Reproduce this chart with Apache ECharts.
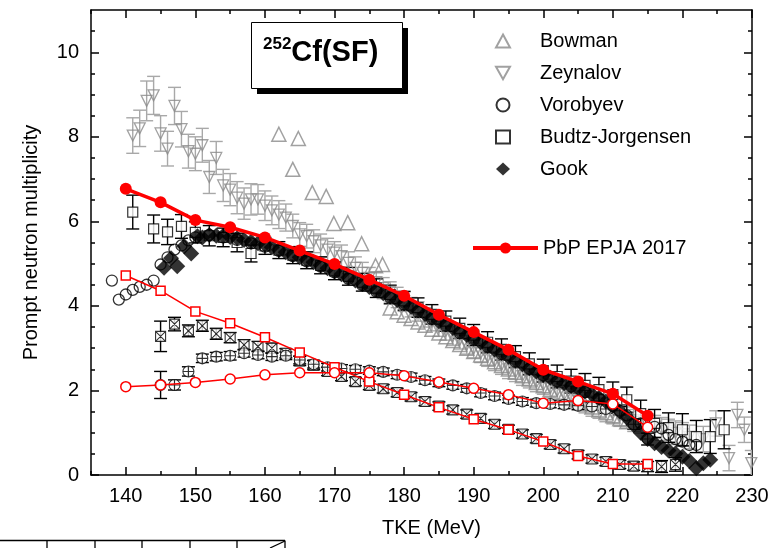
<!DOCTYPE html>
<html>
<head>
<meta charset="utf-8">
<script src="https://cdn.jsdelivr.net/npm/echarts@6/dist/echarts.min.js"></script>
<style>
  html, body { margin: 0; padding: 0; background: #fff; }
  #chart { width: 776px; height: 548px; }
</style>
</head>
<body>
<div id="chart"></div>
<script>
// tick positions
const xMajor = [140, 150, 160, 170, 180, 190, 200, 210, 220, 230]
const xMinor = [135, 145, 155, 165, 175, 185, 195, 205, 215, 225]
const yMajor = [0, 2, 4, 6, 8, 10]
const yMinor = [0.5, 1, 1.5, 2.5, 3, 3.5, 4.5, 5, 5.5, 6.5, 7, 7.5, 8.5, 9, 9.5, 10.5]

// Zeynalov (gray down triangles, with errors)
const zeyTke = [141, 142, 143, 144, 145, 146, 147, 148, 149, 150,
  151, 152, 153, 154, 155, 156, 157, 158, 159, 160,
  161, 162, 163, 164, 165, 166, 167, 168, 169, 170,
  171, 172, 173, 174, 175, 176, 177, 178, 179, 180,
  181, 182, 183, 184, 185, 186, 187, 188, 189, 190,
  191, 192, 193, 194, 195, 196, 197, 198, 199, 200,
  201, 202, 203, 204, 205, 206, 207, 208, 209, 210,
  211, 212, 213, 214, 215, 216, 217, 218, 219, 220,
  221, 223, 224.8, 226.7, 227.9, 228.9, 229.9]
const zeyNu = [8.03, 8.20, 8.85, 8.98, 8.08, 7.72, 8.73, 8.18, 7.66, 7.60,
  7.80, 7.05, 7.50, 6.85, 6.75, 6.56, 6.42, 6.52, 6.52, 6.37,
  6.26, 6.16, 6.09, 5.89, 5.69, 5.65, 5.53, 5.43, 5.33, 5.26,
  5.18, 5.02, 4.90, 4.78, 4.66, 4.56, 4.42, 4.33, 4.20, 4.11,
  3.97, 3.87, 3.73, 3.63, 3.50, 3.41, 3.29, 3.20, 3.08, 2.99,
  2.88, 2.79, 2.69, 2.60, 2.50, 2.43, 2.34, 2.28, 2.19, 2.13,
  2.05, 1.99, 1.90, 1.84, 1.76, 1.71, 1.63, 1.58, 1.51, 1.46,
  1.40, 1.36, 1.29, 1.25, 1.18, 1.14, 1.09, 1.05, 1.00, 0.96,
  0.90, 0.85, 1.22, 0.40, 1.42, 1.07, 0.28]
const zeyErr = [0.42, 0.43, 0.47, 0.45, 0.42, 0.41, 0.44, 0.42, 0.40, 0.40,
  0.40, 0.39, 0.39, 0.38, 0.38, 0.38, 0.37, 0.37, 0.35, 0.35,
  0.34, 0.33, 0.32, 0.28, 0.28, 0.28, 0.27, 0.27, 0.27, 0.26,
  0.26, 0.26, 0.26, 0.25, 0.25, 0.25, 0.25, 0.24, 0.24, 0.24,
  0.23, 0.23, 0.23, 0.22, 0.22, 0.22, 0.22, 0.22, 0.22, 0.22,
  0.22, 0.22, 0.22, 0.22, 0.22, 0.22, 0.22, 0.22, 0.22, 0.22,
  0.22, 0.22, 0.22, 0.22, 0.23, 0.24, 0.24, 0.24, 0.25, 0.25,
  0.25, 0.25, 0.26, 0.26, 0.26, 0.27, 0.27, 0.27, 0.28, 0.28,
  0.28, 0.30, 0.30, 0.30, 0.30, 0.30, 0.30]

// Bowman (gray up triangles)
const bowTke = [162.0, 164.0, 164.8, 166.8, 168.8, 169.9, 171.9, 173.9, 175.9, 176.9,
  178, 179, 180, 181, 182, 183, 184, 185, 186, 187,
  188, 189, 190, 191, 192, 193, 194, 195, 196, 197,
  198, 199, 200, 201, 202, 203, 204, 205, 206, 207,
  208, 209, 210, 211, 212]
const bowNu = [8.06, 7.23, 7.96, 6.68, 6.59, 5.95, 5.97, 5.47, 4.95, 4.98,
  3.95, 3.86, 3.78, 3.70, 3.62, 3.54, 3.45, 3.36, 3.27, 3.18,
  3.09, 3.00, 2.92, 2.84, 2.76, 2.68, 2.59, 2.51, 2.43, 2.35,
  2.27, 2.19, 2.11, 2.03, 1.96, 1.89, 1.82, 1.75, 1.68, 1.61,
  1.54, 1.47, 1.40, 1.33, 1.26]

// Vorobyev (open circles)
const vorTke = [138, 139, 140, 141, 142, 143, 144, 145, 146, 147, 148, 149,
  150, 152, 154, 156, 158, 160, 162, 164, 166, 168, 170, 172, 174, 176, 178, 180,
  182, 184, 186, 188, 190, 192, 194, 196, 198, 200, 202, 204, 206, 208, 210, 212, 214,
  216, 217, 218, 219, 220, 221, 222]
const vorNu = [4.60, 4.15, 4.27, 4.38, 4.45, 4.50, 4.60, 4.98, 5.15, 5.33, 5.43, 5.55,
  5.62, 5.68, 5.62, 5.56, 5.48, 5.40, 5.30, 5.18, 5.05, 4.93, 4.79, 4.64, 4.49, 4.34, 4.19, 4.03,
  3.86, 3.69, 3.53, 3.36, 3.20, 3.03, 2.86, 2.68, 2.51, 2.35, 2.21, 2.09, 1.96, 1.81, 1.63, 1.41, 1.22,
  1.14, 1.10, 0.95, 0.85, 0.79, 0.71, 0.71]

// Budtz-Jorgensen (open squares, with errors)
const budTke = [141, 144, 146, 148,
  150, 152, 154, 156, 158, 160, 162, 164, 166, 168, 170, 172, 174, 176, 178, 180,
  182, 184, 186, 188, 190, 192, 194, 196, 198, 200, 202, 204, 206, 208, 210, 212,
  214, 216, 218, 220, 222, 224, 226]
const budNu = [6.22, 5.82, 5.75, 5.88,
  5.74, 5.66, 5.62, 5.50, 5.24, 5.42, 5.32, 5.20, 5.08, 4.96, 4.83, 4.70, 4.56, 4.42, 4.27, 4.12,
  3.96, 3.80, 3.64, 3.47, 3.31, 3.14, 2.97, 2.80, 2.63, 2.47, 2.33, 2.22, 2.12, 2.02, 1.90, 1.78,
  1.45, 1.22, 1.12, 1.07, 0.91, 0.91, 1.07]
const budErr = [0.40, 0.33, 0.30, 0.28,
  0.25, 0.24, 0.22, 0.22, 0.20, 0.20, 0.20, 0.20, 0.20, 0.20, 0.21, 0.21, 0.21, 0.22, 0.22, 0.22,
  0.23, 0.23, 0.24, 0.24, 0.25, 0.25, 0.25, 0.26, 0.26, 0.27, 0.27, 0.28, 0.28, 0.29, 0.30, 0.30,
  0.32, 0.33, 0.35, 0.38, 0.38, 0.40, 0.45]

// Gook (filled diamonds)
const gookTke = [145.5, 146.5, 147.4, 148.4, 149.4, 150.3,
  151, 152, 153, 154, 155, 156, 157, 158, 159, 160,
  161, 162, 163, 164, 165, 166, 167, 168, 169, 170,
  171, 172, 173, 174, 175, 176, 177, 178, 179, 180,
  181, 182, 183, 184, 185, 186, 187, 188, 189, 190,
  191, 192, 193, 194, 195, 196, 197, 198, 199, 200,
  201, 202, 203, 204, 205, 206, 207, 208, 209, 210,
  211, 212, 213, 214, 215, 216, 217, 218, 219, 220,
  221, 222, 223, 224]
const gookNu = [4.90, 5.13, 4.94, 5.41, 5.24, 5.65,
  5.62, 5.68, 5.66, 5.66, 5.63, 5.60, 5.56, 5.52, 5.48, 5.45,
  5.39, 5.33, 5.27, 5.21, 5.15, 5.09, 5.03, 4.96, 4.89, 4.82,
  4.75, 4.67, 4.60, 4.52, 4.45, 4.37, 4.30, 4.22, 4.14, 4.06,
  3.98, 3.89, 3.81, 3.72, 3.64, 3.56, 3.48, 3.39, 3.31, 3.23,
  3.14, 3.06, 2.97, 2.89, 2.80, 2.71, 2.62, 2.53, 2.45, 2.37,
  2.30, 2.23, 2.17, 2.11, 2.05, 1.98, 1.91, 1.83, 1.74, 1.64,
  1.50, 1.36, 1.18, 1.00, 0.85, 0.75, 0.66, 0.58, 0.51, 0.43,
  0.33, 0.16, 0.28, 0.36]

// lower experimental curves (square with X, circle with +)
const sqxTke = [145, 147, 149, 151, 153, 155, 157, 159, 161, 163,
  165, 167, 169, 171, 173, 175, 177, 179, 181, 183,
  185, 187, 189, 191, 193, 195, 197, 199, 201, 203,
  205, 207, 209, 211, 213, 215, 217, 219]
const sqxNu = [3.28, 3.57, 3.41, 3.53, 3.34, 3.25, 3.08, 3.04, 3.00, 2.88,
  2.70, 2.60, 2.45, 2.33, 2.21, 2.12, 2.04, 1.95, 1.85, 1.74,
  1.63, 1.54, 1.44, 1.34, 1.20, 1.08, 0.97, 0.86, 0.72, 0.62,
  0.48, 0.38, 0.32, 0.25, 0.21, 0.20, 0.20, 0.25]
const sqxErr = [0.36, 0.16, 0.14, 0.13, 0.13, 0.12, 0.12, 0.12, 0.12, 0.11,
  0.11, 0.11, 0.10, 0.10, 0.10, 0.10, 0.10, 0.10, 0.10, 0.10,
  0.10, 0.10, 0.10, 0.10, 0.10, 0.10, 0.10, 0.10, 0.10, 0.10,
  0.10, 0.10, 0.10, 0.10, 0.10, 0.12, 0.14, 0.16]

const cpTke = [145, 147, 149, 151, 153, 155, 157, 159, 161, 163,
  165, 167, 169, 171, 173, 175, 177, 179, 181, 183,
  185, 187, 189, 191, 193, 195, 197, 199, 201, 203,
  205, 207, 209, 211, 213, 215]
const cpNu = [2.13, 2.13, 2.45, 2.76, 2.80, 2.82, 2.88, 2.84, 2.80, 2.82,
  2.72, 2.62, 2.55, 2.52, 2.50, 2.47, 2.44, 2.37, 2.32, 2.24,
  2.18, 2.12, 2.05, 1.94, 1.87, 1.80, 1.74, 1.70, 1.68, 1.66,
  1.64, 1.62, 1.56, 1.52, 1.20, 0.85]
const cpErr = [0.32, 0.12, 0.11, 0.10, 0.10, 0.10, 0.09, 0.09, 0.09, 0.09,
  0.09, 0.09, 0.09, 0.09, 0.09, 0.09, 0.09, 0.09, 0.09, 0.09,
  0.09, 0.09, 0.09, 0.09, 0.09, 0.09, 0.09, 0.09, 0.09, 0.09,
  0.09, 0.09, 0.10, 0.10, 0.12, 0.14]

// PbP EPJA 2017 (red)
const pbpTke = [140, 145, 150, 155, 160, 165, 170, 175, 180, 185, 190, 195, 200, 205, 210, 215]
const pbpTotal = [6.77, 6.45, 6.03, 5.86, 5.62, 5.31, 4.99, 4.62, 4.24, 3.79, 3.38, 2.96, 2.49, 2.21, 1.92, 1.40]
const pbpSquare = [4.72, 4.36, 3.87, 3.59, 3.26, 2.90, 2.55, 2.21, 1.90, 1.60, 1.32, 1.07, 0.79, 0.45, 0.26, 0.26]
const pbpCircle = [2.09, 2.13, 2.19, 2.27, 2.37, 2.42, 2.42, 2.42, 2.35, 2.20, 2.05, 1.90, 1.70, 1.76, 1.68, 1.13]

const FONT = 'Liberation Sans'
const GRAY = '#8a8a8a'

const pts = (xs, ys) => xs.map((x, i) => [x, ys[i]])
const errPts = (xs, ys, es) => xs.map((x, i) => [x, ys[i], es[i]])

// vertical error bar with caps
function errorBars (color, half) {
  return function (params, api) {
    const x = api.value(0)
    const y = api.value(1)
    const e = api.value(2)
    const top = api.coord([x, y + e])
    const bot = api.coord([x, y - e])
    const st = { stroke: color, lineWidth: 1.4 }
    return {
      type: 'group',
      children: [
        { type: 'line', shape: { x1: top[0], y1: top[1], x2: bot[0], y2: bot[1] }, style: st },
        { type: 'line', shape: { x1: top[0] - half, y1: top[1], x2: top[0] + half, y2: top[1] }, style: st },
        { type: 'line', shape: { x1: bot[0] - half, y1: bot[1], x2: bot[0] + half, y2: bot[1] }, style: st }
      ]
    }
  }
}

function barSeries (name, data, color) {
  return {
    type: 'custom',
    name: name,
    data: data,
    renderItem: errorBars(color, 6.5),
    clip: true,
    silent: true
  }
}

const SQUARE_X = 'path://M0 0H10V10H0Z M0 0L10 10 M10 0L0 10'
const CIRCLE_PLUS = 'path://M0 5A5 5 0 1 1 10 5A5 5 0 1 1 0 5Z M5 0V10 M0 5H10'
const DOWN_TRIANGLE = 'path://M0 0L10 0L5 9Z'

const axisLineStyle = { color: '#000', width: 1.5 }

function xAxisOf (position, ticks, len, withLine, withLabel) {
  return {
    type: 'value',
    min: 135,
    max: 230,
    position: position,
    splitLine: { show: false },
    axisLine: { show: withLine, onZero: false, lineStyle: axisLineStyle },
    axisTick: { show: true, inside: true, length: len, customValues: ticks, lineStyle: { color: '#000', width: 1.5 } },
    axisLabel: withLabel
      ? { show: true, customValues: xMajor, margin: 11, fontSize: 20, fontFamily: FONT, color: '#000' }
      : { show: false }
  }
}

function yAxisOf (position, ticks, len, withLine, withLabel) {
  return {
    type: 'value',
    min: 0,
    max: 11,
    position: position,
    splitLine: { show: false },
    axisLine: { show: withLine, onZero: false, lineStyle: axisLineStyle },
    axisTick: { show: true, inside: true, length: len, customValues: ticks, lineStyle: { color: '#000', width: 1.5 } },
    axisLabel: withLabel
      ? { show: true, customValues: yMajor, margin: 12, fontSize: 20, fontFamily: FONT, color: '#000' }
      : { show: false }
  }
}

const chart = echarts.init(document.getElementById('chart'), null, { renderer: 'canvas' })

const xMain = xAxisOf('bottom', xMajor, 8, true, true)
xMain.name = 'TKE (MeV)'
xMain.nameLocation = 'middle'
xMain.nameGap = 43
xMain.nameTextStyle = { fontSize: 20, fontFamily: FONT, color: '#000', padding: [0, 0, 0, 20] }

const yMain = yAxisOf('left', yMajor, 8, true, true)
yMain.name = 'Prompt neutron multiplicity'
yMain.nameLocation = 'middle'
yMain.nameGap = 50
yMain.nameTextStyle = { fontSize: 20, fontFamily: FONT, color: '#000' }

const option = {
  animation: false,
  backgroundColor: '#fff',
  grid: { left: 91, right: 24, top: 10, bottom: 73, outerBoundsMode: 'none' },
  xAxis: [
    xMain,
    xAxisOf('bottom', xMinor, 4, false, false),
    xAxisOf('top', xMajor, 8, true, false),
    xAxisOf('top', xMinor, 4, false, false)
  ],
  yAxis: [
    yMain,
    yAxisOf('left', yMinor, 4, false, false),
    yAxisOf('right', yMajor, 8, true, false),
    yAxisOf('right', yMinor, 4, false, false)
  ],
  legend: [
    {
      data: [
        'Bowman',
        { name: 'Zeynalov', icon: DOWN_TRIANGLE },
        'Vorobyev',
        'Budtz-Jorgensen',
        'Gook'
      ],
      orient: 'vertical',
      left: 495,
      top: 30,
      padding: 0,
      itemWidth: 14,
      itemHeight: 13,
      itemGap: 10,
      selectedMode: false,
      textStyle: { fontSize: 20, fontFamily: FONT, color: '#000', lineHeight: 22, padding: [0, 0, 0, 25] }
    },
    {
      data: ['PbP EPJA 2017'],
      left: 471,
      top: 237,
      padding: 0,
      itemWidth: 65,
      itemHeight: 14,
      selectedMode: false,
      lineStyle: { width: 4 },
      textStyle: { fontSize: 20, fontFamily: FONT, color: '#000', lineHeight: 22 }
    }
  ],
  graphic: [
    // 252Cf(SF) label box with drop shadow
    { type: 'rect', left: 257, top: 28, z: 100, shape: { width: 151, height: 66 }, style: { fill: '#000' } },
    { type: 'rect', left: 251, top: 22, z: 101, shape: { width: 151, height: 66 }, style: { fill: '#fff', stroke: '#000', lineWidth: 1 } },
    {
      type: 'text',
      z: 102,
      x: 263,
      y: 36,
      style: {
        text: '{s|252}{m|Cf(SF)}',
        fill: '#000',
        rich: {
          s: { fontSize: 17, fontWeight: 'bold', fontFamily: FONT, verticalAlign: 'top', lineHeight: 34 },
          m: { fontSize: 29, fontWeight: 'bold', fontFamily: FONT, lineHeight: 34 }
        }
      }
    },
    // edge of the next figure peeking in at the bottom left
    { type: 'line', shape: { x1: 0, y1: 540.5, x2: 285, y2: 540.5 }, style: { stroke: '#000', lineWidth: 1.3 } },
    { type: 'line', shape: { x1: 47, y1: 540.5, x2: 47, y2: 548 }, style: { stroke: '#000', lineWidth: 1.3 } },
    { type: 'line', shape: { x1: 95, y1: 540.5, x2: 95, y2: 548 }, style: { stroke: '#000', lineWidth: 1.3 } },
    { type: 'line', shape: { x1: 142, y1: 540.5, x2: 142, y2: 548 }, style: { stroke: '#000', lineWidth: 1.3 } },
    { type: 'line', shape: { x1: 190, y1: 540.5, x2: 190, y2: 548 }, style: { stroke: '#000', lineWidth: 1.3 } },
    { type: 'line', shape: { x1: 237, y1: 540.5, x2: 237, y2: 548 }, style: { stroke: '#000', lineWidth: 1.3 } },
    { type: 'line', shape: { x1: 285, y1: 540.5, x2: 285, y2: 548 }, style: { stroke: '#000', lineWidth: 1.3 } },
    { type: 'line', shape: { x1: 285, y1: 541, x2: 270, y2: 548 }, style: { stroke: '#000', lineWidth: 1.3 } }
  ],
  series: [
    barSeries('Zeynalov err', errPts(zeyTke, zeyNu, zeyErr), '#a8a8a8'),
    {
      type: 'scatter',
      name: 'Zeynalov',
      data: pts(zeyTke, zeyNu),
      symbol: 'triangle',
      symbolRotate: 180,
      symbolSize: 11,
      itemStyle: { color: 'rgba(255,255,255,0)', borderColor: GRAY, borderWidth: 1.3 }
    },
    {
      type: 'scatter',
      name: 'Bowman',
      data: pts(bowTke, bowNu),
      symbol: 'triangle',
      symbolSize: 14,
      itemStyle: { color: 'rgba(255,255,255,0)', borderColor: GRAY, borderWidth: 1.5 }
    },
    barSeries('sqx err', errPts(sqxTke, sqxNu, sqxErr), '#000'),
    {
      type: 'scatter',
      name: 'sqx',
      data: pts(sqxTke, sqxNu),
      symbol: SQUARE_X,
      symbolSize: 10,
      itemStyle: { color: '#fff', borderColor: '#000', borderWidth: 1.1 }
    },
    barSeries('cp err', errPts(cpTke, cpNu, cpErr), '#000'),
    {
      type: 'scatter',
      name: 'cp',
      data: pts(cpTke, cpNu),
      symbol: CIRCLE_PLUS,
      symbolSize: 11,
      itemStyle: { color: '#fff', borderColor: '#000', borderWidth: 1.1 }
    },
    barSeries('Budtz err', errPts(budTke, budNu, budErr), '#000'),
    {
      type: 'scatter',
      name: 'Budtz-Jorgensen',
      data: pts(budTke, budNu),
      symbol: 'rect',
      symbolSize: 10,
      itemStyle: { color: '#fff', borderColor: '#000', borderWidth: 1.2 }
    },
    {
      type: 'scatter',
      name: 'Vorobyev',
      data: pts(vorTke, vorNu),
      symbol: 'circle',
      symbolSize: 11,
      itemStyle: { color: 'rgba(255,255,255,0)', borderColor: '#000', borderWidth: 1.3 }
    },
    {
      type: 'scatter',
      name: 'Gook',
      data: pts(gookTke, gookNu),
      symbol: 'diamond',
      symbolSize: 16,
      itemStyle: { color: '#000' }
    },
    {
      type: 'line',
      name: 'PbP square',
      data: pts(pbpTke, pbpSquare),
      symbol: 'rect',
      symbolSize: 9,
      showAllSymbol: true,
      lineStyle: { color: '#ff0000', width: 1.5 },
      itemStyle: { color: '#fff', borderColor: '#ff0000', borderWidth: 1.5 }
    },
    {
      type: 'line',
      name: 'PbP circle',
      data: pts(pbpTke, pbpCircle),
      symbol: 'circle',
      symbolSize: 10,
      showAllSymbol: true,
      lineStyle: { color: '#ff0000', width: 1.5 },
      itemStyle: { color: '#fff', borderColor: '#ff0000', borderWidth: 1.5 }
    },
    {
      type: 'line',
      name: 'PbP EPJA 2017',
      data: pts(pbpTke, pbpTotal),
      symbol: 'circle',
      symbolSize: 12,
      showAllSymbol: true,
      lineStyle: { color: '#ff0000', width: 3.5 },
      itemStyle: { color: '#ff0000' }
    }
  ]
}

chart.setOption(option)
</script>
</body>
</html>
